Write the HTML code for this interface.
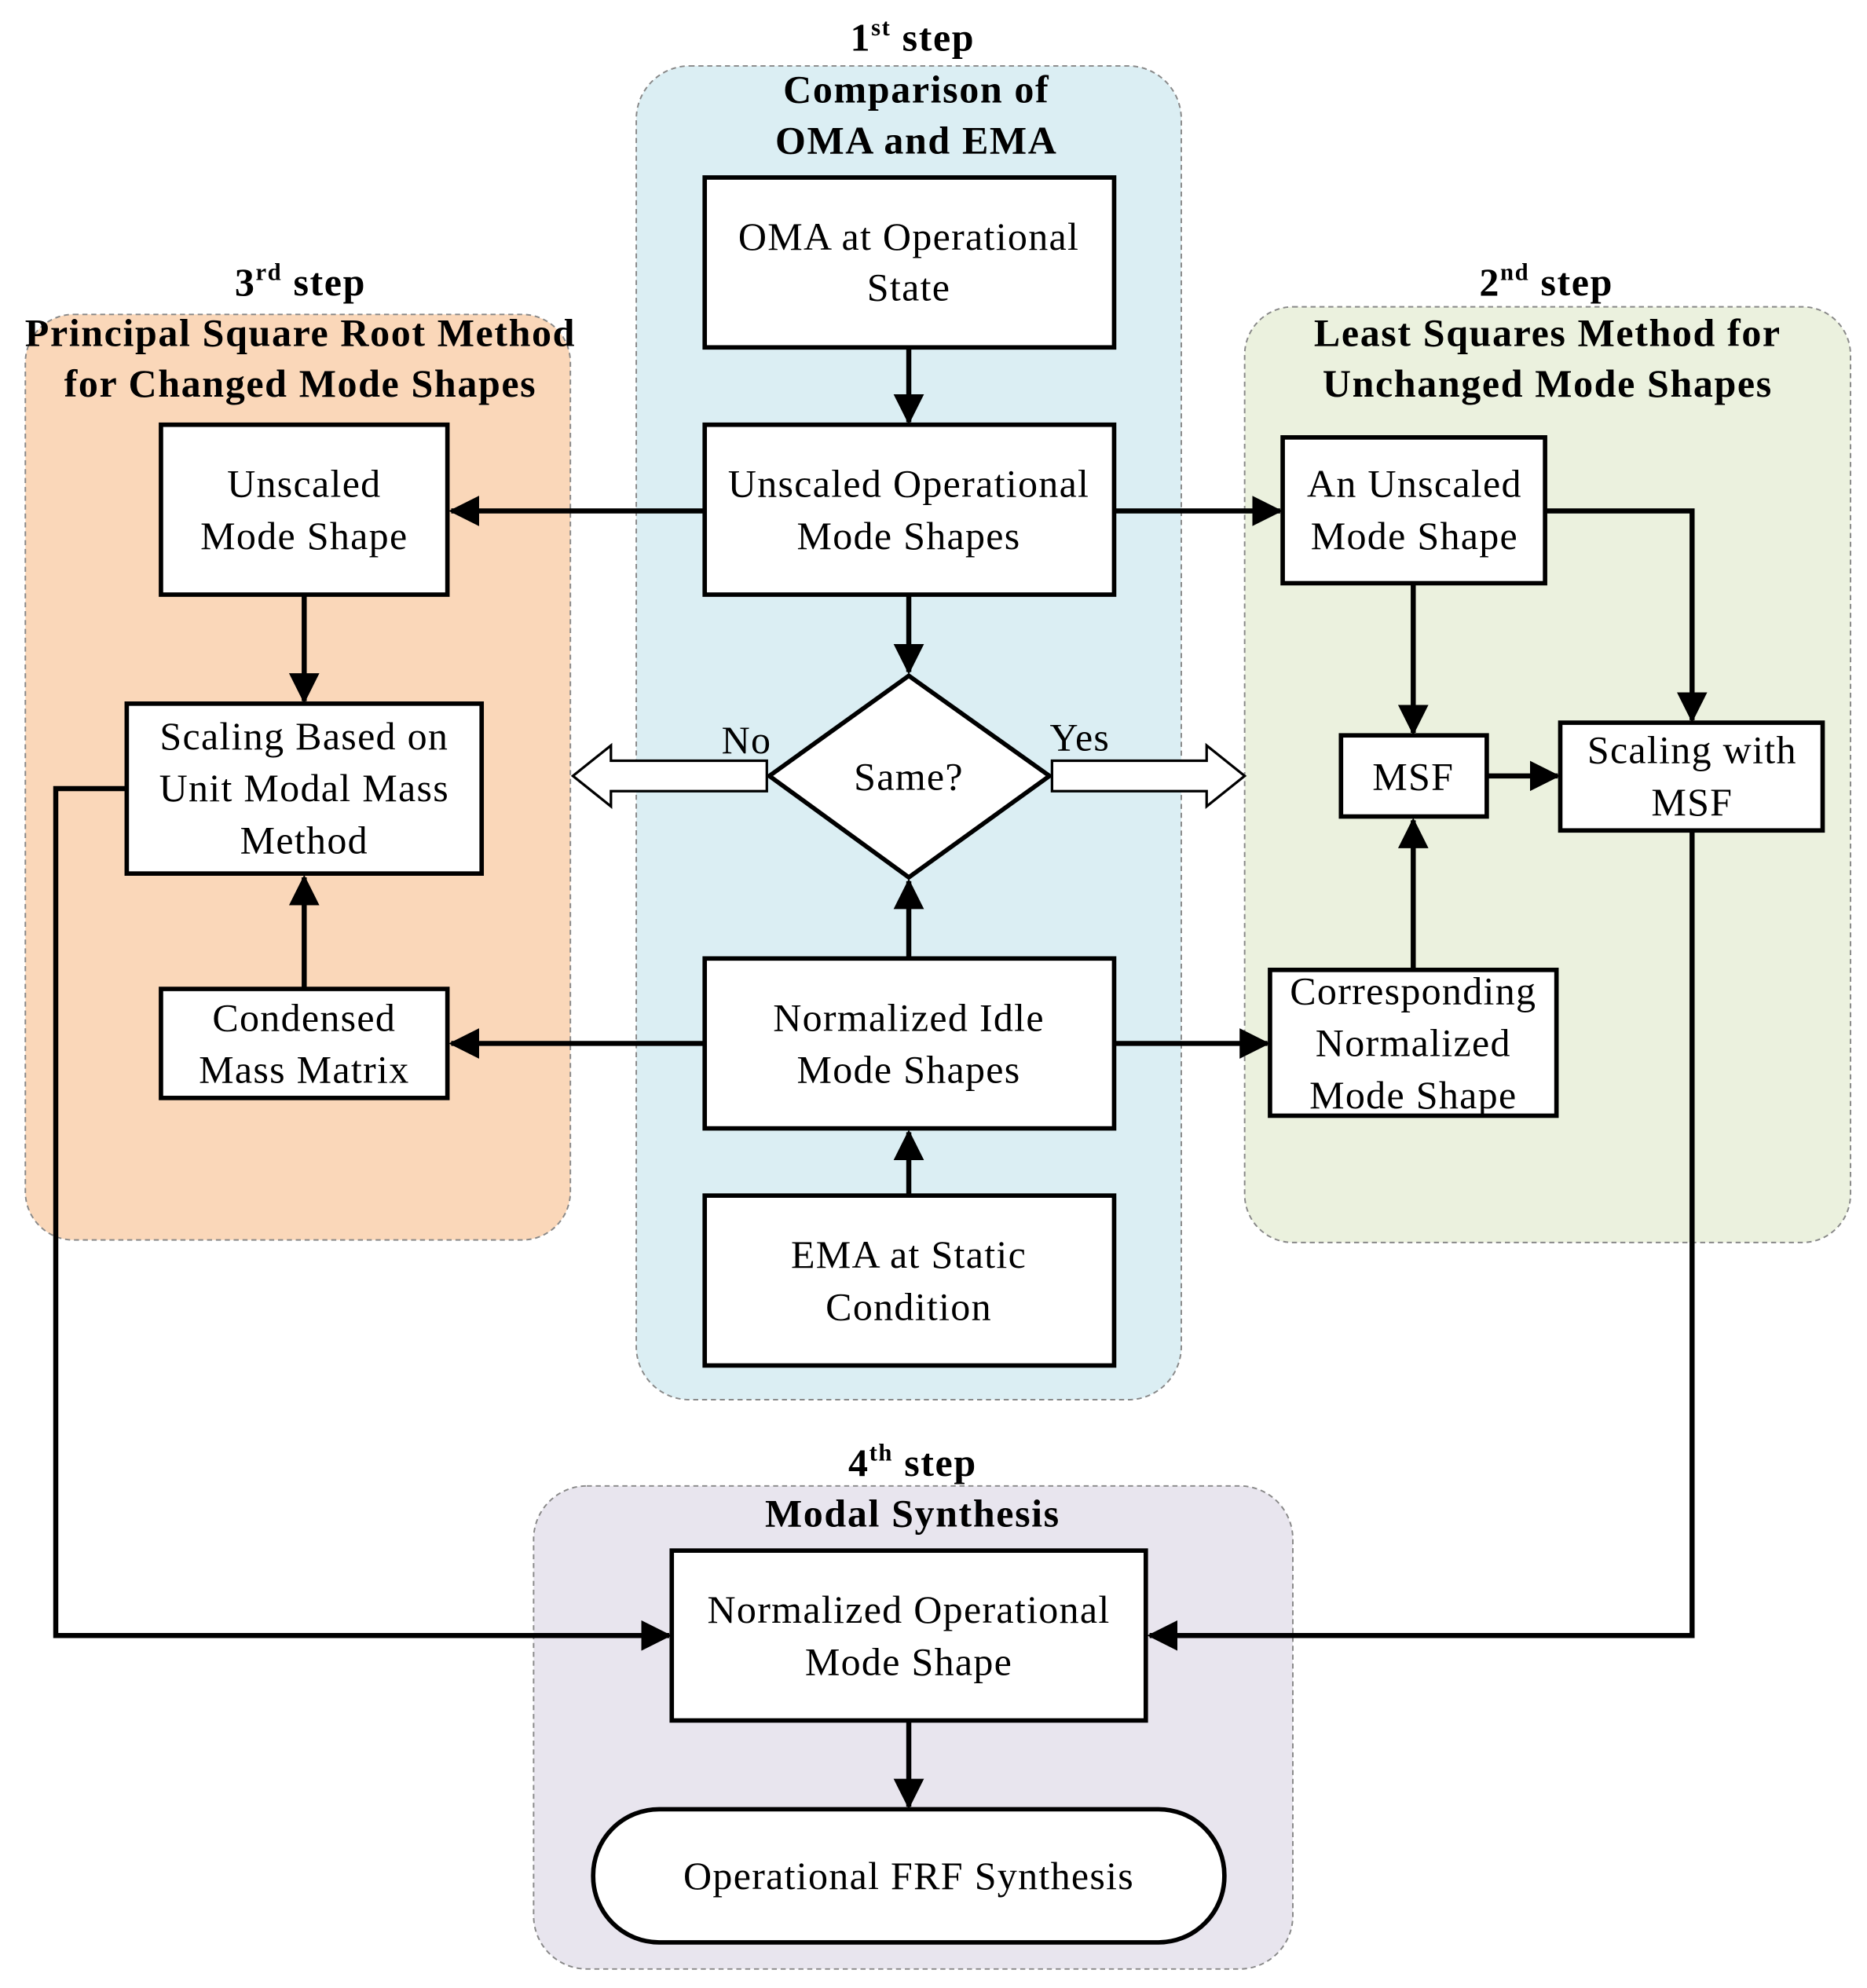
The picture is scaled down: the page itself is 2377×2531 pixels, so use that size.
<!DOCTYPE html>
<html><head><meta charset="utf-8"><style>
html,body{margin:0;padding:0;background:#fff;}
svg{display:block;}
text{font-family:"Liberation Serif",serif;font-size:31px;fill:#000;text-anchor:middle;letter-spacing:0.8px;}
.b{font-weight:bold;font-size:31px;letter-spacing:1px;}
.box{fill:#fff;stroke:#000;stroke-width:3.5;}
.ln{stroke:#000;stroke-width:4;fill:none;}
.pn{stroke:#888;stroke-width:1.2;stroke-dasharray:4 3;}
</style></head><body>
<svg width="2377" height="2531" viewBox="0 0 1473 1568" preserveAspectRatio="none" xmlns="http://www.w3.org/2000/svg">
<defs><marker id="a" markerWidth="6" markerHeight="6" refX="5.5" refY="3" orient="auto" markerUnits="strokeWidth"><path d="M0,0 L6,3 L0,6 z" fill="#000"/></marker></defs>
<rect class="pn" x="502" y="52" width="430" height="1052" rx="42" fill="#dbeef3"/>
<rect class="pn" x="20" y="248" width="430" height="730" rx="38" fill="#fad7b9"/>
<rect class="pn" x="982" y="242" width="478" height="738" rx="38" fill="#ebf1de"/>
<rect class="pn" x="421" y="1172" width="599" height="381" rx="42" fill="#e8e5ee"/>

<text class="b" x="720" y="40">1<tspan font-size="19" dy="-12">st</tspan><tspan dy="12"> step</tspan></text>
<text class="b" x="723" y="81">Comparison of</text>
<text class="b" x="723" y="121">OMA and EMA</text>
<text class="b" x="237" y="233">3<tspan font-size="19" dy="-12">rd</tspan><tspan dy="12">  step</tspan></text>
<text class="b" x="237" y="273">Principal Square Root Method</text>
<text class="b" x="237" y="313">for Changed Mode Shapes</text>
<text class="b" x="1220" y="233">2<tspan font-size="19" dy="-12">nd</tspan><tspan dy="12">  step</tspan></text>
<text class="b" x="1221" y="273">Least Squares Method for</text>
<text class="b" x="1221" y="313">Unchanged Mode Shapes</text>
<text class="b" x="720" y="1164">4<tspan font-size="19" dy="-12">th</tspan><tspan dy="12"> step</tspan></text>
<text class="b" x="720" y="1204">Modal Synthesis</text>

<rect class="box" x="556" y="140" width="323" height="134"/>
<text x="717" y="197">OMA at Operational</text><text x="717" y="237">State</text>
<rect class="box" x="556" y="335" width="323" height="134"/>
<text x="717" y="392">Unscaled Operational</text><text x="717" y="433">Mode Shapes</text>
<polygon class="box" points="717,533 828,612 717,692 607,612"/>
<text x="717" y="623">Same?</text>
<rect class="box" x="556" y="756" width="323" height="134"/>
<text x="717" y="813">Normalized Idle</text><text x="717" y="854">Mode Shapes</text>
<rect class="box" x="556" y="943" width="323" height="134"/>
<text x="717" y="1000">EMA at Static</text><text x="717" y="1041">Condition</text>

<rect class="box" x="127" y="335" width="226" height="134"/>
<text x="240" y="392">Unscaled</text><text x="240" y="433">Mode Shape</text>
<rect class="box" x="100" y="555" width="280" height="134"/>
<text x="240" y="591">Scaling Based on</text><text x="240" y="632">Unit Modal Mass</text><text x="240" y="673">Method</text>
<rect class="box" x="127" y="780" width="226" height="86"/>
<text x="240" y="813">Condensed</text><text x="240" y="854">Mass Matrix</text>

<rect class="box" x="1012" y="345" width="207" height="115"/>
<text x="1116" y="392">An Unscaled</text><text x="1116" y="433">Mode Shape</text>
<rect class="box" x="1058" y="580" width="115" height="64"/>
<text x="1115" y="623">MSF</text>
<rect class="box" x="1231" y="570" width="207" height="85"/>
<text x="1335" y="602">Scaling with</text><text x="1335" y="643">MSF</text>
<rect class="box" x="1002" y="765" width="226" height="115"/>
<text x="1115" y="792">Corresponding</text><text x="1115" y="833">Normalized</text><text x="1115" y="874">Mode Shape</text>

<rect class="box" x="530" y="1223" width="374" height="134"/>
<text x="717" y="1280">Normalized  Operational</text><text x="717" y="1321">Mode Shape</text>
<rect class="box" x="468" y="1427" width="498" height="105" rx="52"/>
<text x="717" y="1490">Operational FRF Synthesis</text>

<polygon points="605,600 482,600 482,588 452,612 482,636 482,624 605,624" fill="#fff" stroke="#000" stroke-width="2"/>
<polygon points="830,600 952,600 952,588 982,612 952,636 952,624 830,624" fill="#fff" stroke="#000" stroke-width="2"/>
<text x="589" y="594">No</text>
<text x="852" y="592">Yes</text>

<g class="ln" marker-end="url(#a)">
<line x1="717" y1="274" x2="717" y2="333"/>
<line x1="556" y1="403" x2="356" y2="403"/>
<line x1="879" y1="403" x2="1010" y2="403"/>
<line x1="717" y1="469" x2="717" y2="530"/>
<line x1="717" y1="756" x2="717" y2="695"/>
<line x1="717" y1="943" x2="717" y2="893"/>
<line x1="556" y1="823" x2="356" y2="823"/>
<line x1="879" y1="823" x2="1000" y2="823"/>
<line x1="240" y1="469" x2="240" y2="553"/>
<line x1="240" y1="780" x2="240" y2="692"/>
<line x1="1115" y1="460" x2="1115" y2="578"/>
<polyline points="1219,403 1335,403 1335,568"/>
<line x1="1173" y1="612" x2="1229" y2="612"/>
<line x1="1115" y1="765" x2="1115" y2="647"/>
<polyline points="100,622 44,622 44,1290 528,1290"/>
<polyline points="1335,655 1335,1290 907,1290"/>
<line x1="717" y1="1357" x2="717" y2="1425"/>
</g>
</svg>
</body></html>
